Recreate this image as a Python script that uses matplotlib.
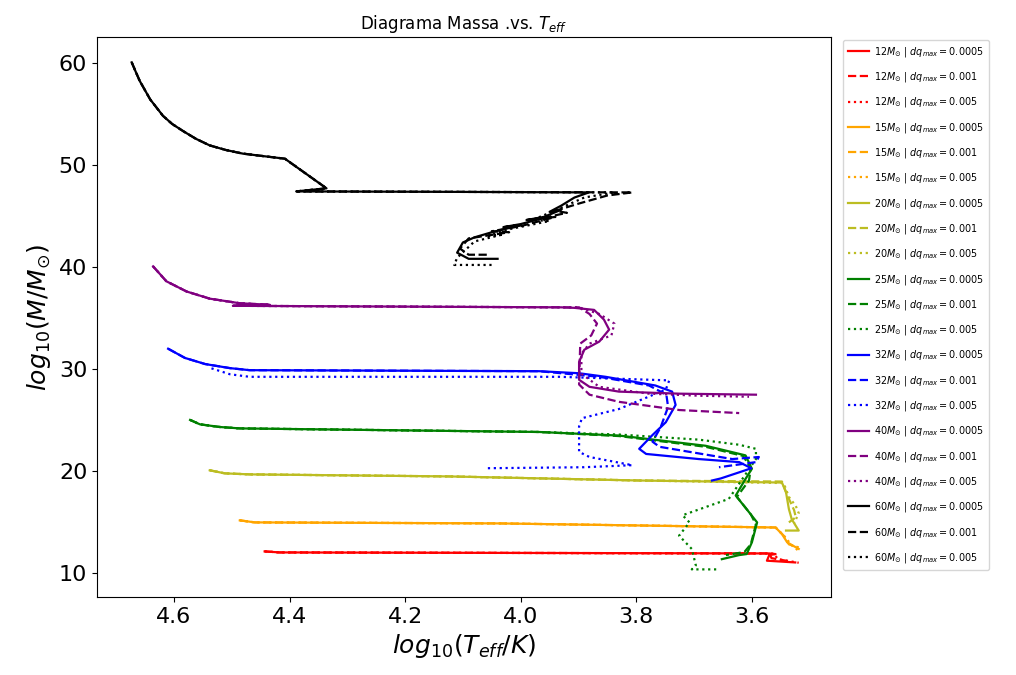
import matplotlib
matplotlib.use("Agg")
import matplotlib.pyplot as plt

# ---------------- data (log10 Teff, Mass) ----------------
masses = [12, 15, 20, 25, 32, 40, 60]
dq_labels = ["0.0005", "0.001", "0.005"]
colors = ["red", "orange", "#bcbd22", "green", "blue", "purple", "black"]
styles = ["-", "--", ":"]

# 12 Msun
T12_zams = [4.443, 4.417]
M12_zams = [12.16, 12.06]
T12_a = T12_zams + [3.570, 3.559, 3.570, 3.574, 3.525]
M12_a = M12_zams + [11.96, 11.90, 11.80, 11.25, 11.08]
T12_b = T12_zams + [3.570, 3.566, 3.536]
M12_b = M12_zams + [11.96, 11.50, 11.20]
T12_c = T12_zams + [3.562, 3.555, 3.519]
M12_c = M12_zams + [11.95, 11.40, 11.05]

# 15 Msun
T15_zams = [4.486, 4.460, 4.037]
M15_zams = [15.20, 15.00, 14.90]
T15_a = T15_zams + [3.559, 3.548, 3.539, 3.519]
M15_a = M15_zams + [14.50, 13.86, 13.05, 12.40]
T15_b = T15_zams + [3.559, 3.545, 3.536, 3.519]
M15_b = M15_zams + [14.50, 13.70, 12.85, 12.55]
T15_c = T15_zams + [3.559, 3.543, 3.531, 3.521]
M15_c = M15_zams + [14.50, 13.60, 12.75, 12.30]

# 20 Msun
T20_zams = [4.538, 4.512, 4.469, 4.124, 3.795]
M20_zams = [20.10, 19.80, 19.70, 19.50, 19.10]
T20_a = T20_zams + [3.548, 3.541, 3.536, 3.531, 3.519, 3.541]
M20_a = M20_zams + [18.90, 17.96, 16.30, 15.30, 14.20, 14.20]
T20_b = T20_zams + [3.548, 3.540, 3.527, 3.524, 3.536]
M20_b = M20_zams + [19.00, 17.80, 16.20, 15.50, 15.00]
T20_c = T20_zams + [3.545, 3.536, 3.524, 3.519, 3.527]
M20_c = M20_zams + [18.85, 17.50, 16.60, 15.90, 14.90]

# 25 Msun
T25_zams = [4.572, 4.555, 4.521, 4.486, 3.968]
M25_zams = [25.03, 24.60, 24.34, 24.20, 23.85]
T25_a = T25_zams + [3.830, 3.680, 3.611, 3.600, 3.611, 3.628, 3.605, 3.591,
                    3.600, 3.609, 3.622, 3.652]
M25_a = M25_zams + [23.50, 22.50, 21.56, 20.25, 19.26, 17.63, 16.00, 15.00,
                    13.05, 11.90, 11.80, 11.40]
T25_b = T25_zams + [3.830, 3.680, 3.615, 3.602, 3.605, 3.626, 3.602, 3.593,
                    3.602, 3.613, 3.645]
M25_b = M25_zams + [23.45, 22.40, 21.50, 20.30, 19.10, 17.50, 15.80, 14.80,
                    12.85, 12.10, 11.80]
T25_c = T25_zams + [3.830, 3.692, 3.622, 3.593, 3.593, 3.605, 3.640, 3.680,
                    3.720, 3.708, 3.726, 3.704, 3.697, 3.704, 3.661]
M25_c = M25_zams + [23.60, 23.10, 22.60, 22.20, 21.20, 20.20, 17.30, 16.50,
                    15.70, 15.00, 13.70, 12.40, 10.80, 10.40, 10.40]

# 32 Msun
T32_zams = [4.610, 4.581, 4.546, 4.503, 4.469, 3.968]
M32_zams = [32.00, 31.10, 30.50, 30.10, 29.90, 29.80]
T32_a = T32_zams + [3.899, 3.853, 3.767, 3.738, 3.732, 3.749, 3.772, 3.795,
                    3.783, 3.692, 3.622, 3.601, 3.622, 3.654, 3.669]
M32_a = M32_zams + [29.60, 29.25, 28.40, 27.80, 26.50, 24.80, 23.55, 22.20,
                    21.70, 21.20, 20.90, 20.30, 19.90, 19.30, 19.10]
T32_b = T32_zams + [3.864, 3.778, 3.748, 3.745, 3.758, 3.772, 3.760, 3.634,
                    3.588, 3.593, 3.657]
M32_b = M32_zams + [29.25, 28.40, 27.50, 26.30, 24.30, 22.90, 22.40, 21.20,
                    21.40, 20.90, 20.40]
T32_c = [4.535, 4.503, 4.469, 3.933, 3.743, 3.749, 3.830, 3.894, 3.899,
         3.899, 3.881, 3.807, 3.890, 4.063]
M32_c = [30.08, 29.50, 29.25, 29.25, 28.90, 28.00, 26.10, 25.20, 24.40,
         21.90, 21.40, 20.60, 20.40, 20.30]

# 40 Msun
T40_zams = [4.636, 4.613, 4.578, 4.538, 4.486, 4.434, 4.498, 3.930]
M40_zams = [40.06, 38.60, 37.60, 36.90, 36.45, 36.30, 36.20, 36.05]
T40_a = T40_zams + [3.907, 3.873, 3.856, 3.847, 3.864, 3.890, 3.899, 3.899,
                    3.881, 3.830, 3.726, 3.593]
M40_a = M40_zams + [36.00, 35.80, 34.85, 33.87, 32.70, 31.90, 30.70, 28.96,
                    28.27, 27.80, 27.60, 27.50]
T40_b = T40_zams + [3.899, 3.881, 3.868, 3.878, 3.897, 3.899, 3.881, 3.830,
                    3.726, 3.622]
M40_b = M40_zams + [36.05, 35.40, 34.46, 33.30, 32.50, 28.50, 27.50, 26.80,
                    26.00, 25.70]
T40_c = T40_zams + [3.899, 3.864, 3.838, 3.843, 3.881, 3.895, 3.895, 3.864,
                    3.778, 3.692, 3.605]
M40_c = M40_zams + [36.05, 35.40, 34.46, 33.30, 32.50, 31.50, 29.55, 28.27,
                    27.60, 27.40, 27.30]

# 60 Msun
T60_zams = [4.673, 4.666, 4.659, 4.650, 4.641, 4.630, 4.619, 4.603, 4.584,
            4.562, 4.538, 4.510, 4.481, 4.445, 4.408, 4.336, 4.388, 4.100]
M60_zams = [60.03, 59.10, 58.20, 57.30, 56.40, 55.60, 54.80, 54.00, 53.30,
            52.55, 51.90, 51.45, 51.10, 50.85, 50.60, 47.70, 47.40, 47.35]
T60_a = T60_zams + [3.882, 3.907, 3.930, 3.950, 3.930, 3.960, 3.990, 3.960,
                    4.000, 4.030, 4.000, 4.050, 4.080, 4.100, 4.110, 4.090,
                    4.040]
M60_a = M60_zams + [47.30, 46.80, 46.00, 45.40, 45.60, 44.90, 44.60, 44.80,
                    44.20, 43.90, 44.10, 43.40, 42.90, 42.40, 41.40, 40.80,
                    40.80]
T60_b = T60_zams + [3.807, 3.850, 3.900, 3.940, 3.920, 3.970, 3.940, 4.000,
                    4.050, 4.020, 4.090, 4.105, 4.090, 4.055]
M60_b = M60_zams + [47.30, 47.00, 46.20, 45.50, 45.30, 44.70, 44.90, 44.00,
                    43.50, 43.40, 42.80, 41.80, 41.20, 41.20]
T60_c = T60_zams + [3.838, 3.890, 3.950, 3.980, 3.950, 4.020, 4.060, 4.030,
                    4.080, 4.110, 4.115, 4.050]
M60_c = M60_zams + [47.30, 46.80, 45.30, 44.60, 44.50, 43.70, 43.00, 43.20,
                    42.50, 40.90, 40.20, 40.20]

tracks = {
    12: [(T12_a, M12_a), (T12_b, M12_b), (T12_c, M12_c)],
    15: [(T15_a, M15_a), (T15_b, M15_b), (T15_c, M15_c)],
    20: [(T20_a, M20_a), (T20_b, M20_b), (T20_c, M20_c)],
    25: [(T25_a, M25_a), (T25_b, M25_b), (T25_c, M25_c)],
    32: [(T32_a, M32_a), (T32_b, M32_b), (T32_c, M32_c)],
    40: [(T40_a, M40_a), (T40_b, M40_b), (T40_c, M40_c)],
    60: [(T60_a, M60_a), (T60_b, M60_b), (T60_c, M60_c)],
}

# ---------------- plot ----------------
fig = plt.figure(figsize=(10.16, 6.75), dpi=100)
ax = fig.add_axes([0.0955, 0.1156, 0.7225, 0.8294])

for m, c in zip(masses, colors):
    for (T, M), ls, dq in zip(tracks[m], styles, dq_labels):
        ax.plot(T, M, color=c, linestyle=ls, linewidth=1.6,
                label=r"$%dM_{\odot}$ | $dq_{max}=%s$" % (m, dq))

ax.set_xlim(4.733, 3.463)
ax.set_ylim(7.7, 62.5)
ax.tick_params(axis="both", labelsize=16)
ax.set_xlabel(r"$log_{10}(T_{eff}/K)$", fontsize=18)
ax.set_ylabel(r"$log_{10}(M/M_{\odot})$", fontsize=18)
ax.set_title(r"Diagrama Massa .vs. $T_{eff}$", fontsize=12)

ax.legend(loc="upper left", bbox_to_anchor=(1.012, 1.0), borderaxespad=0.3,
          fontsize=6.9, labelspacing=1.18, handlelength=2.2,
          handletextpad=0.6, borderpad=0.5)

fig.savefig("out.png", dpi=100)
